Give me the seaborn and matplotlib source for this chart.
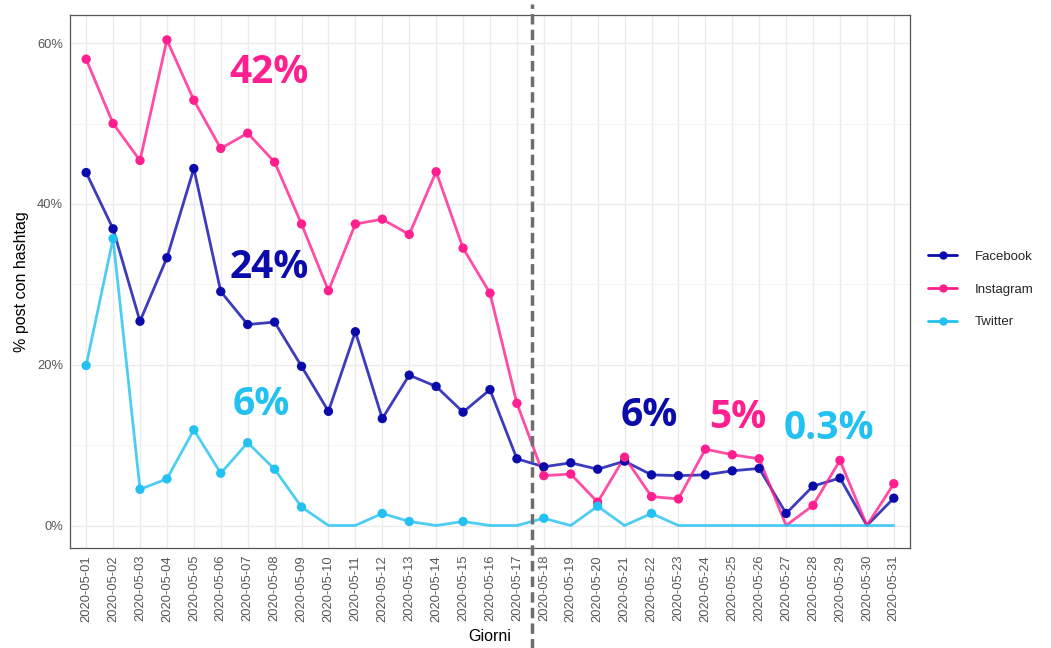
import pandas as pd
import seaborn as sns
import matplotlib.pyplot as plt
from matplotlib.lines import Line2D
from matplotlib.ticker import PercentFormatter, MultipleLocator

# daily share of posts with hashtag (%)
days = [f"2020-05-{d:02d}" for d in range(1, 32)]
facebook = [43.9, 36.9, 25.4, 33.3, 44.4, 29.1, 25.0, 25.3, 19.8, 14.2,
            24.1, 13.3, 18.7, 17.3, 14.1, 16.9, 8.3, 7.3, 7.8, 7.0,
            8.0, 6.3, 6.2, 6.3, 6.8, 7.1, 1.5, 4.9, 5.9, 0.0, 3.4]
instagram = [58.0, 50.0, 45.4, 60.4, 52.9, 46.9, 48.8, 45.2, 37.5, 29.2,
             37.5, 38.1, 36.2, 44.0, 34.5, 28.9, 15.2, 6.2, 6.4, 2.9,
             8.5, 3.6, 3.3, 9.5, 8.8, 8.3, 0.0, 2.5, 8.1, 0.0, 5.2]
twitter = [19.9, 35.7, 4.5, 5.8, 11.9, 6.5, 10.3, 7.0, 2.3, 0.0,
           0.0, 1.5, 0.5, 0.0, 0.5, 0.0, 0.0, 0.9, 0.0, 2.4,
           0.0, 1.5, 0.0, 0.0, 0.0, 0.0, 0.0, 0.0, 0.0, 0.0, 0.0]

platforms = ["Facebook", "Instagram", "Twitter"]
colors = {"Facebook": "#0b0bab", "Instagram": "#ff1f8e", "Twitter": "#22c1f1"}

# period averages written on the chart
labels_text = ["42%", "24%", "6%", "6%", "5%", "0.3%"]
labels_x = [6.8, 6.8, 6.5, 20.9, 24.2, 27.6]
labels_y = [56.4, 32.1, 15.0, 13.7, 13.4, 12.1]
labels_col = ["Instagram", "Facebook", "Twitter", "Facebook", "Instagram", "Twitter"]

split_pos = 16.57  # dashed separator between 05-17 and 05-18

df = pd.DataFrame({
    "day": days * 3,
    "platform": [p for p in platforms for _ in days],
    "value": facebook + instagram + twitter,
})

sns.set_theme(style="whitegrid")
fig = plt.figure(figsize=(10.51, 6.48), dpi=100)
ax = fig.add_axes([0.0666, 0.1543, 0.7992, 0.8226])

sns.lineplot(data=df, x="day", y="value", hue="platform", palette=colors,
             linewidth=2, alpha=0.8, legend=False, ax=ax, sort=False)
sns.scatterplot(data=df[df["value"] > 0], x="day", y="value", hue="platform",
                palette=colors, s=45, edgecolor="none", legend=False, ax=ax, zorder=3)

ax.set_xlim(-0.6, 30.6)
ax.set_ylim(-2.8, 63.5)
ax.yaxis.set_major_locator(MultipleLocator(20))
ax.yaxis.set_minor_locator(MultipleLocator(10))
ax.yaxis.set_major_formatter(PercentFormatter(decimals=0))
ax.grid(which="major", color="#ebebeb", linewidth=1)
ax.grid(which="minor", axis="y", color="#f4f4f4", linewidth=0.6)
for s in ax.spines.values():
    s.set_color("#555555")
    s.set_linewidth(0.9)

ax.tick_params(axis="both", which="major", length=3, color="#333333",
               labelcolor="#555555", labelsize=9.3, pad=2)
ax.tick_params(axis="y", which="minor", length=0)
ax.tick_params(axis="x", rotation=90)
for t in ax.get_xticklabels() + ax.get_yticklabels():
    t.set_fontfamily("Liberation Sans")

ax.set_xlabel("Giorni", fontsize=11.5, family="Liberation Sans", color="black", labelpad=5)
ax.set_ylabel("% post con hashtag", fontsize=11.5, family="Liberation Sans", color="black", labelpad=6)

ax.axvline(split_pos, ymin=-0.19, ymax=1.02, clip_on=False, color="#6e6e6e",
           linestyle=(0, (3, 1.5)), linewidth=2.5, zorder=4)

for txt, x, y, c in zip(labels_text, labels_x, labels_y, labels_col):
    ax.text(x, y, txt, color=colors[c], fontsize=28, fontweight="bold",
            family="Open Sans", ha="center", va="center", zorder=5)

handles = [Line2D([0], [0], color=colors[p], marker="o", markersize=5, linewidth=2)
           for p in platforms]
leg = fig.legend(handles, platforms, loc="center left", bbox_to_anchor=(0.872, 0.553),
                 frameon=False, prop={"family": "Liberation Sans", "size": 9.5},
                 labelspacing=1.55, handlelength=2.2, handletextpad=1.3)

plt.savefig("out.png", dpi=100)
